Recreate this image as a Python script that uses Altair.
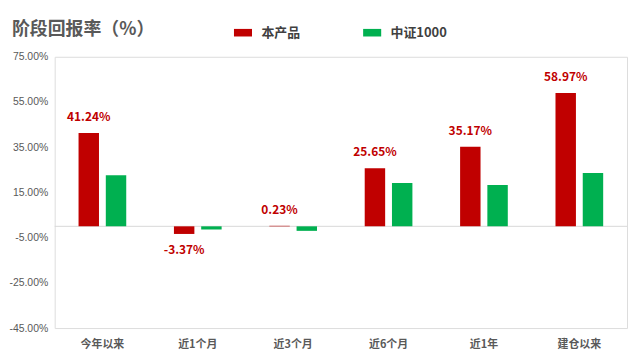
import altair as alt
import pandas as pd

categories = ["今年以来", "近1个月", "近3个月", "近6个月", "近1年", "建仓以来"]
product_vals = [41.24, -3.37, 0.23, 25.65, 35.17, 58.97]
index_vals = [22.6, -1.4, -2.0, 19.2, 18.3, 23.6]
series_names = ["本产品", "中证1000"]
y_ticks = [-45, -25, -5, 15, 35, 55, 75]
title_text = ["阶段回报率（%）"]

rows = []
for c, p, i in zip(categories, product_vals, index_vals):
    rows.append({"cat": c, "series": series_names[0], "val": p})
    rows.append({"cat": c, "series": series_names[1], "val": i})
df = pd.DataFrame(rows)

FONT = "Noto Sans CJK SC"
RED = "#c00000"
GREEN = "#00b050"
LABEL_EXPR = "(datum.val < 0 ? '-' : '') + format(abs(datum.val), '.2f') + '%'"

x_enc = alt.X("cat:N", sort=categories,
              scale=alt.Scale(paddingInner=0.5, paddingOuter=0.25),
              axis=alt.Axis(title=None, labelAngle=0, domain=False, ticks=False,
                            labelFontWeight="bold", labelFontSize=11,
                            labelColor="#595959", labelPadding=11, labelFont=FONT))
xoff_enc = alt.XOffset("series:N", sort=series_names,
                       scale=alt.Scale(paddingInner=0.25, paddingOuter=0))
y_scale = alt.Scale(domain=[-45, 75], nice=False, zero=False)

bars = alt.Chart(df).mark_bar().encode(
    x=x_enc,
    xOffset=xoff_enc,
    y=alt.Y("val:Q", scale=y_scale,
            axis=alt.Axis(title=None, values=y_ticks, grid=False, domain=False,
                          ticks=False,
                          labelExpr="(datum.value < 0 ? '-' : '') + format(abs(datum.value), '.2f') + '%'",
                          labelFontSize=10.5, labelColor="#595959", labelPadding=7,
                          labelFont="Liberation Sans")),
    color=alt.Color("series:N", sort=series_names,
                    scale=alt.Scale(domain=series_names, range=[RED, GREEN]),
                    legend=alt.Legend(title=None, orient="none", legendX=180, legendY=-34,
                                      direction="horizontal",
                                      symbolType="M-1,-0.42H1V0.42H-1Z",
                                      symbolSize=330, symbolStrokeWidth=0,
                                      labelFontSize=13, labelFontWeight="bold",
                                      labelColor="#404040", labelFont=FONT,
                                      labelOffset=9, columnPadding=62)),
)

zero = alt.Chart(pd.DataFrame({"z": [0]})).mark_rule(color="#d9d9d9", strokeWidth=1).encode(
    y=alt.Y("z:Q", scale=y_scale))

red_df = df[df["series"] == series_names[0]]
label_base = alt.Chart(red_df).transform_calculate(lab=LABEL_EXPR)
pos_labels = label_base.transform_filter("datum.val >= 0").mark_text(
    color=RED, fontWeight="bold", fontSize=12, font=FONT, dy=-16, baseline="middle"
).encode(x=alt.X("cat:N", sort=categories), xOffset=alt.XOffset("series:N", sort=series_names),
         y=alt.Y("val:Q", scale=y_scale), text="lab:N")
neg_labels = label_base.transform_filter("datum.val < 0").mark_text(
    color=RED, fontWeight="bold", fontSize=12, font=FONT, dy=16, baseline="middle"
).encode(x=alt.X("cat:N", sort=categories), xOffset=alt.XOffset("series:N", sort=series_names),
         y=alt.Y("val:Q", scale=y_scale), text="lab:N")

title = alt.Chart(pd.DataFrame({"t": title_text})).mark_text(
    fontSize=18, fontWeight="bold", color="#595959", font=FONT, align="left",
    baseline="alphabetic"
).encode(x=alt.value(-43), y=alt.value(-22), text="t:N")

chart = alt.layer(zero, bars, pos_labels, neg_labels, title).properties(
    width=576, height=273,
    autosize=alt.AutoSizeParams(type="none"),
    padding={"left": 47, "top": 48, "right": 5, "bottom": 24},
).configure_view(stroke=None).configure(font=FONT)

chart.save("out.html", embed_options={"renderer": "svg", "actions": False})
